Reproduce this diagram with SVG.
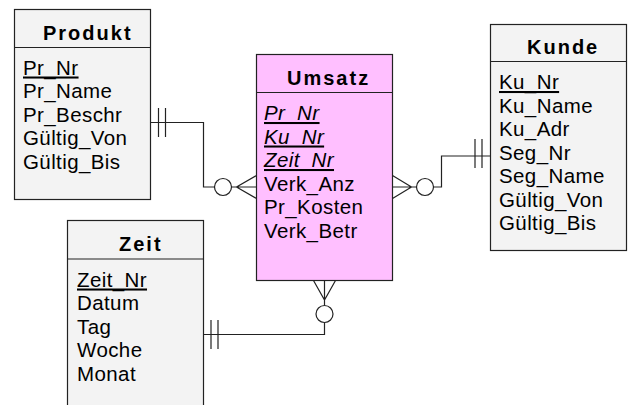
<svg xmlns="http://www.w3.org/2000/svg" width="629" height="405" viewBox="0 0 629 405">
<style>
.box{fill:#f3f3f3;stroke:#222;stroke-width:1.2}
.pink{fill:#ffbfff;stroke:#222;stroke-width:1.2}
.div{stroke:#222;stroke-width:1.2}
.title{font-family:"Liberation Sans",Arial,sans-serif;font-size:20px;font-weight:bold;letter-spacing:2px;fill:#000}
.attr{font-family:"Liberation Sans",Arial,sans-serif;font-size:20.5px;letter-spacing:0.4px;fill:#000}
.key{text-decoration:underline}
.ikey{text-decoration:underline;font-style:italic}
.ln{fill:none;stroke:#222;stroke-width:1.2}
.circ{fill:#fff;stroke:#222;stroke-width:1.2}
</style>
<g id="connectors">
<g id="c-produkt-umsatz">
<polyline class="ln" points="150,122.5 203.5,122.5 203.5,187 214.5,187"/>
<line class="ln" x1="158.5" y1="108" x2="158.5" y2="137"/>
<line class="ln" x1="165.5" y1="108" x2="165.5" y2="137"/>
<path class="ln" d="M256.5,175.5 L236.5,187 L256.5,198.5 M231.5,187 L256.5,187"/>
<circle class="circ" cx="223" cy="187" r="8.5"/>
</g>
<g id="c-kunde-umsatz">
<polyline class="ln" points="490.5,156 441.5,156 441.5,187 433.5,187"/>
<line class="ln" x1="475" y1="139" x2="475" y2="168"/>
<line class="ln" x1="482" y1="139" x2="482" y2="168"/>
<path class="ln" d="M392.5,175.5 L411.5,187 L392.5,198.5 M392.5,187 L416.5,187"/>
<circle class="circ" cx="425" cy="187" r="8.5"/>
</g>
<g id="c-zeit-umsatz">
<polyline class="ln" points="203.5,334.5 324.5,334.5 324.5,322.5"/>
<line class="ln" x1="211" y1="320" x2="211" y2="349"/>
<line class="ln" x1="218" y1="320" x2="218" y2="349"/>
<path class="ln" d="M313.5,280.5 L324.5,300 L335.5,280.5 M324.5,280.5 L324.5,305.5"/>
<circle class="circ" cx="324.5" cy="314" r="8.5"/>
</g>
</g>
<g id="produkt">
<rect class="box" x="14.5" y="9.5" width="136" height="190"/>
<line class="div" x1="14.5" y1="47.5" x2="150.5" y2="47.5"/>
<text class="title" x="43" y="39.5">Produkt</text>
<text class="attr" x="23" y="74.5"><tspan class="key">Pr_Nr</tspan></text>
<text class="attr" x="23" y="98">Pr_Name</text>
<text class="attr" x="23" y="121.5">Pr_Beschr</text>
<text class="attr" x="23" y="145">Gültig_Von</text>
<text class="attr" x="23" y="168.5">Gültig_Bis</text>
</g>
<g id="umsatz">
<rect class="pink" x="256.5" y="54.5" width="136" height="226"/>
<line class="div" x1="256.5" y1="92.5" x2="392.5" y2="92.5"/>
<text class="title" x="287" y="84.5">Umsatz</text>
<text class="attr" x="264" y="120"><tspan class="ikey">Pr_Nr</tspan></text>
<text class="attr" x="264" y="143.5"><tspan class="ikey">Ku_Nr</tspan></text>
<text class="attr" x="264" y="167"><tspan class="ikey">Zeit_Nr</tspan></text>
<text class="attr" x="264" y="190.5">Verk_Anz</text>
<text class="attr" x="264" y="214">Pr_Kosten</text>
<text class="attr" x="264" y="237.5">Verk_Betr</text>
</g>
<g id="kunde">
<rect class="box" x="490.5" y="24.5" width="136" height="226"/>
<line class="div" x1="490.5" y1="61.5" x2="626.5" y2="61.5"/>
<text class="title" x="527" y="53.5">Kunde</text>
<text class="attr" x="499" y="89"><tspan class="key">Ku_Nr</tspan></text>
<text class="attr" x="499" y="112.5">Ku_Name</text>
<text class="attr" x="499" y="136">Ku_Adr</text>
<text class="attr" x="499" y="159.5">Seg_Nr</text>
<text class="attr" x="499" y="183">Seg_Name</text>
<text class="attr" x="499" y="206.5">Gültig_Von</text>
<text class="attr" x="499" y="230">Gültig_Bis</text>
</g>
<g id="zeit">
<rect class="box" x="67.5" y="220.5" width="136" height="200"/>
<line class="div" x1="67.5" y1="259" x2="203.5" y2="259"/>
<text class="title" x="119" y="250.5">Zeit</text>
<text class="attr" x="77" y="286.5"><tspan class="key">Zeit_Nr</tspan></text>
<text class="attr" x="77" y="310">Datum</text>
<text class="attr" x="77" y="333.5">Tag</text>
<text class="attr" x="77" y="357">Woche</text>
<text class="attr" x="77" y="380.5">Monat</text>
</g>
</svg>
